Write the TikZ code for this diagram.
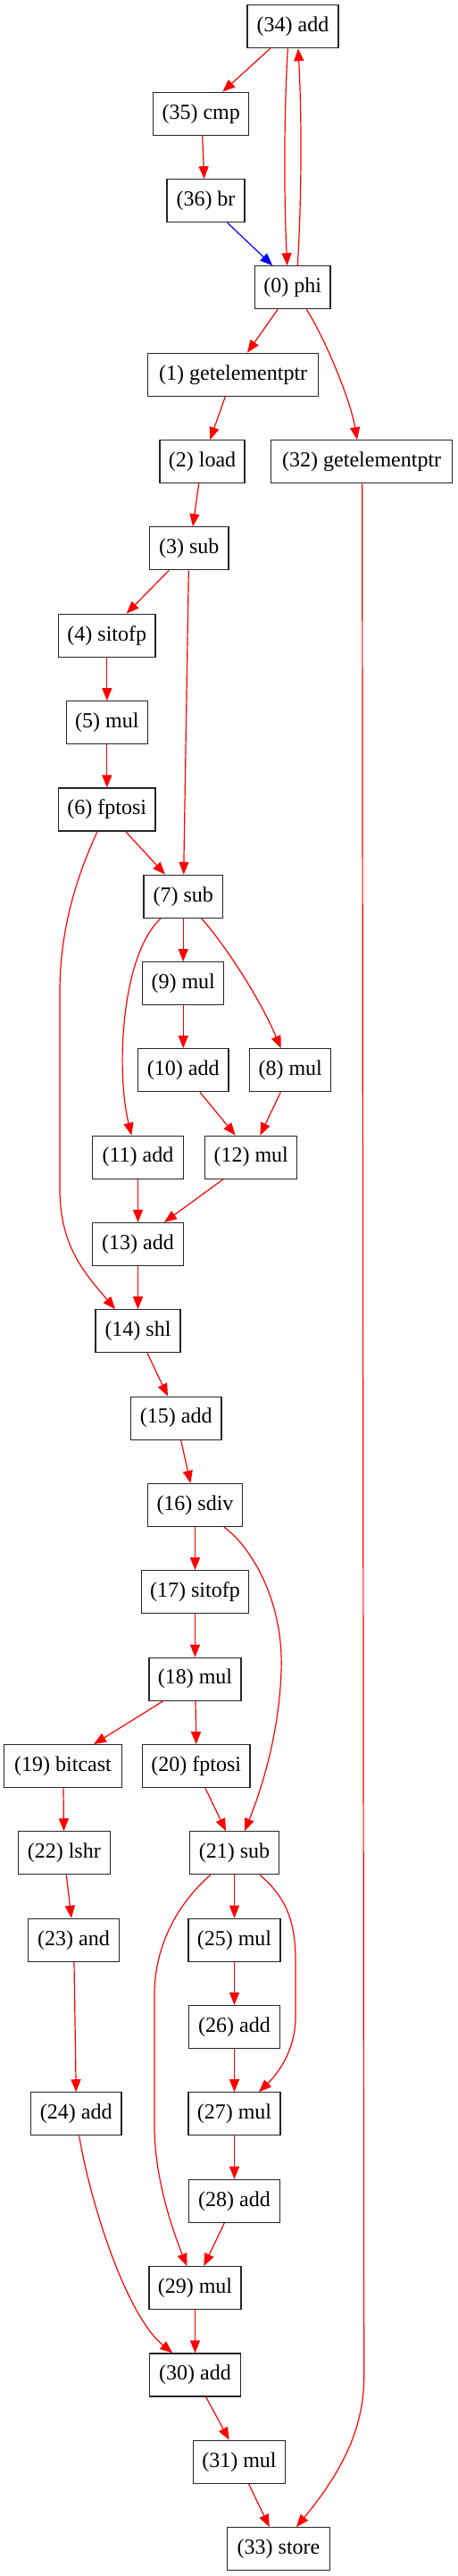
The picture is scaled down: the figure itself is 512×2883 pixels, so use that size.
\documentclass[tikz,border=0pt]{standalone}
\usepackage{fontspec}
\setmainfont{Liberation Serif}
\usetikzlibrary{arrows.meta}
\begin{document}
\begin{tikzpicture}[x=1pt,y=1pt,
  op/.style={draw=black!85, line width=1.2pt, rectangle, inner sep=0pt, minimum height=48pt, font=\fontsize{24}{28}\selectfont},
  e/.style={draw=red, line width=1.2pt, -{Triangle[length=14pt,width=11pt]}},
  eb/.style={e, draw=blue, -{Triangle[length=14pt,width=11pt,fill=blue]}}]
\useasboundingbox (0,0) rectangle (512,-2883);
\node[op, minimum width=102pt]   (n34) at (328,-29.7)   {(34) add};
\node[op, minimum width=107pt]   (n35) at (225.2,-127.3) {(35) cmp};
\node[op, minimum width=87pt]    (n36) at (230.5,-224.7) {(36) br};
\node[op, minimum width=84.3pt]  (n0)  at (327.8,-321.8) {(0) phi};
\node[op, minimum width=191pt]   (n1)  at (261.2,-419.3) {(1) getelementptr};
\node[op, minimum width=95pt]    (n2)  at (226.5,-516.7) {(2) load};
\node[op, minimum width=203pt]   (n32) at (405.2,-516.7) {(32) getelementptr};
\node[op, minimum width=88.3pt]  (n3)  at (211.8,-613.7) {(3) sub};
\node[op, minimum width=108.3pt] (n4)  at (119.8,-711.3) {(4) sitofp};
\node[op, minimum width=91pt]    (n5)  at (119.8,-808.7) {(5) mul};
\node[op, minimum width=108.3pt] (n6)  at (119.8,-906)   {(6) fptosi};
\node[op, minimum width=88.3pt]  (n7)  at (205.2,-1003.3) {(7) sub};
\node[op, minimum width=91pt]    (n9)  at (205.2,-1100.7) {(9) mul};
\node[op, minimum width=101.7pt] (n10) at (205.2,-1197.8) {(10) add};
\node[op, minimum width=91pt]    (n8)  at (325.2,-1197.8) {(8) mul};
\node[op, minimum width=101.7pt] (n11) at (154.5,-1295.2) {(11) add};
\node[op, minimum width=103pt]   (n12) at (281.2,-1295.2) {(12) mul};
\node[op, minimum width=101.7pt] (n13) at (154.5,-1392.5) {(13) add};
\node[op, minimum width=95pt]    (n14) at (154.5,-1489.8) {(14) shl};
\node[op, minimum width=101.7pt] (n15) at (197.2,-1587.2) {(15) add};
\node[op, minimum width=105.7pt] (n16) at (218.5,-1684.5) {(16) sdiv};
\node[op, minimum width=120.3pt] (n17) at (218.5,-1781.8) {(17) sitofp};
\node[op, minimum width=103pt]   (n18) at (218.5,-1879.2) {(18) mul};
\node[op, minimum width=131.7pt] (n19) at (70.5,-1976.7)  {(19) bitcast};
\node[op, minimum width=120.3pt] (n20) at (219.8,-1976.7) {(20) fptosi};
\node[op, minimum width=103pt]   (n22) at (71.8,-2073.8)  {(22) lshr};
\node[op, minimum width=100.3pt] (n21) at (262.5,-2073.8) {(21) sub};
\node[op, minimum width=101.7pt] (n23) at (82.5,-2171.3)  {(23) and};
\node[op, minimum width=103pt]   (n25) at (262.5,-2171.3) {(25) mul};
\node[op, minimum width=101.7pt] (n26) at (262.5,-2268.5) {(26) add};
\node[op, minimum width=101.7pt] (n24) at (85.2,-2365.8)  {(24) add};
\node[op, minimum width=103pt]   (n27) at (262.5,-2365.8) {(27) mul};
\node[op, minimum width=101.7pt] (n28) at (262.5,-2463.3) {(28) add};
\node[op, minimum width=103pt]   (n29) at (218.5,-2560.7) {(29) mul};
\node[op, minimum width=101.7pt] (n30) at (218.5,-2658)   {(30) add};
\node[op, minimum width=102.7pt] (n31) at (268,-2755.3)   {(31) mul};
\node[op, minimum width=114.7pt] (n33) at (312,-2852.7)   {(33) store};
% edges
\draw[e] ([xshift=-25.3pt]n34.south) -- ([xshift=24.1pt]n35.north);
\draw[e] ([xshift=-5.7pt]n34.south) .. controls (318,-130) and (318,-220) .. ([xshift=-6.1pt]n0.north);
\draw[e] ([xshift=5.5pt]n0.north) .. controls (338,-220) and (338,-130) .. ([xshift=6pt]n34.south);
\draw[e] ([xshift=1.5pt]n35.south) -- ([xshift=-1.8pt]n36.north);
\draw[eb] ([xshift=24.2pt]n36.south) -- ([xshift=-22.5pt]n0.north);
\draw[e] ([xshift=-16.8pt]n0.south) -- ([xshift=15.8pt]n1.north);
\draw[e] ([xshift=15.5pt]n0.south) .. controls (362,-375) and (392,-445) .. ([xshift=-5.2pt]n32.north);
\draw[e] ([xshift=-8.9pt]n1.south) -- ([xshift=8.8pt]n2.north);
\draw[e] ([xshift=-3.8pt]n2.south) -- ([xshift=4.2pt]n3.north);
\draw[e] ([xshift=-22.5pt]n3.south) -- ([xshift=21.9pt]n4.north);
\draw[e] ([xshift=-0.5pt]n3.south) -- ([xshift=0.5pt]n7.north);
\draw[e] (n4.south) -- (n5.north);
\draw[e] (n5.south) -- (n6.north);
\draw[e] ([xshift=20.9pt]n6.south) -- ([xshift=-20.2pt]n7.north);
\draw[e] ([xshift=-10.8pt]n6.south) .. controls (92,-968) and (67,-1030) .. (67,-1110) -- (67,-1330) .. controls (67,-1395) and (95,-1425) .. ([xshift=-25.5pt]n14.north);
\draw[e] (n7.south) -- (n9.north);
\draw[e] ([xshift=20.5pt]n7.south) .. controls (250,-1055) and (290,-1115) .. ([xshift=-10.5pt]n8.north);
\draw[e] ([xshift=-25.2pt]n7.south) .. controls (135,-1070) and (130,-1200) .. ([xshift=-7.2pt]n11.north);
\draw[e] (n9.south) -- (n10.north);
\draw[e] ([xshift=18.8pt]n10.south) -- ([xshift=-17.5pt]n12.north);
\draw[e] ([xshift=-10.9pt]n8.south) -- ([xshift=10.1pt]n12.north);
\draw[e] (n11.south) -- (n13.north);
\draw[e] ([xshift=-31.2pt]n12.south) -- ([xshift=29.5pt]n13.north);
\draw[e] (n13.south) -- (n14.north);
\draw[e] ([xshift=10.5pt]n14.south) -- ([xshift=-9.2pt]n15.north);
\draw[e] ([xshift=5.5pt]n15.south) -- ([xshift=-5.2pt]n16.north);
\draw[e] (n16.south) -- (n17.north);
\draw[e] ([xshift=32.5pt]n16.south) .. controls (280,-1730) and (318,-1790) .. (315,-1870) .. controls (313,-1930) and (298,-1990) .. ([xshift=11.5pt]n21.north);
\draw[e] (n17.south) -- (n18.north);
\draw[e] ([xshift=-35.8pt]n18.south) -- ([xshift=34.5pt]n19.north);
\draw[e] ([xshift=0.5pt]n18.south) -- (n20.north);
\draw[e] ([xshift=0.5pt]n19.south) -- ([xshift=-0.3pt]n22.north);
\draw[e] ([xshift=10.2pt]n20.south) -- ([xshift=-9.5pt]n21.north);
\draw[e] ([xshift=2.5pt]n22.south) -- ([xshift=-2.5pt]n23.north);
\draw[e] ([xshift=0.5pt]n23.south) -- (n24.north);
\draw[e] (n21.south) -- (n25.north);
\draw[e] ([xshift=28.8pt]n21.south) .. controls (318,-2122) and (330,-2145) .. (331,-2190) -- (331,-2260) .. controls (330,-2295) and (312,-2320) .. ([xshift=27.5pt]n27.north);
\draw[e] ([xshift=-26.8pt]n21.south) .. controls (205,-2125) and (174,-2170) .. (173,-2230) -- (173,-2380) .. controls (173,-2440) and (195,-2500) .. ([xshift=-9.2pt]n29.north);
\draw[e] (n25.south) -- (n26.north);
\draw[e] (n26.south) -- (n27.north);
\draw[e] (n27.south) -- (n28.north);
\draw[e] ([xshift=3.5pt]n24.south) .. controls (100,-2460) and (140,-2590) .. ([xshift=-25.2pt]n30.north);
\draw[e] ([xshift=-11.2pt]n28.south) -- ([xshift=9.8pt]n29.north);
\draw[e] (n29.south) -- (n30.north);
\draw[e] ([xshift=12.2pt]n30.south) -- ([xshift=-11.3pt]n31.north);
\draw[e] ([xshift=10.7pt]n31.south) -- ([xshift=-10.3pt]n33.north);
\draw[e] ([xshift=0.5pt]n32.south) -- (407.7,-2660) .. controls (408,-2720) and (380,-2770) .. ([xshift=20pt]n33.north);
\end{tikzpicture}
\end{document}
